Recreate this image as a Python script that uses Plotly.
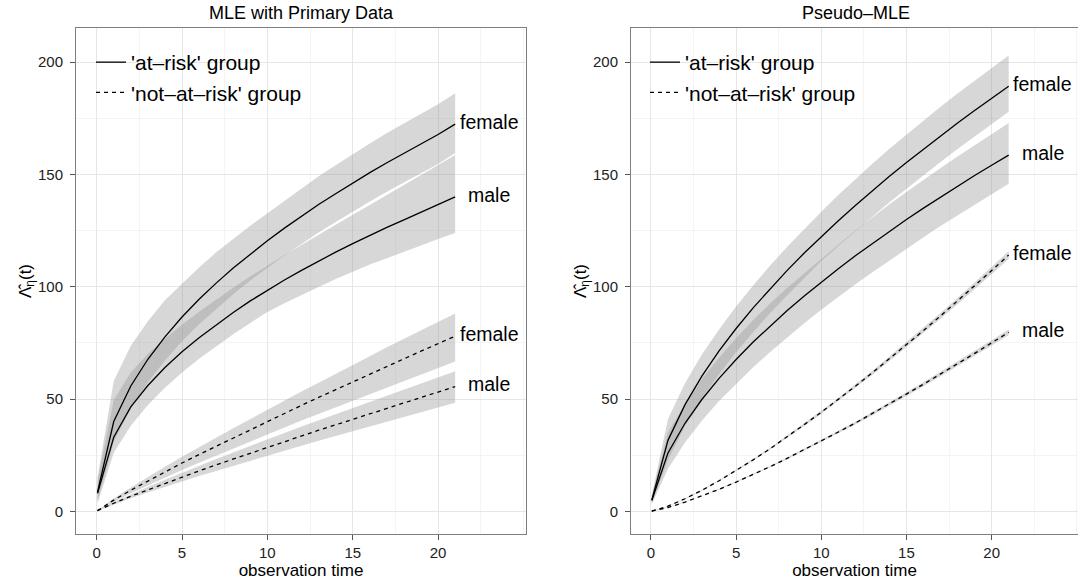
import plotly.graph_objects as go

# ---------------- data ----------------
T = [0.05, 1, 2, 3, 4, 5, 6, 7, 8, 9, 10, 11, 12, 13, 14, 15, 16, 17, 18, 19, 20, 21]

# Panel 1: MLE with Primary Data
mle_risk_female = [8.5, 40.0, 55.8, 67.7, 77.7, 86.5, 94.4, 101.6, 108.3, 114.6, 120.5, 126.1, 131.4, 136.6, 141.4, 146.2, 150.8, 155.2, 159.4, 163.6, 167.8, 172.4]
mle_risk_female_lo = [4.5, 31.0, 45.8, 57.5, 67.2, 75.7, 83.3, 90.2, 96.7, 102.8, 108.5, 113.9, 119.0, 124.2, 128.8, 133.5, 138.0, 142.3, 146.5, 150.7, 154.7, 159.5]
mle_risk_female_hi = [15.0, 58.0, 73.7, 84.6, 94.0, 101.2, 108.6, 115.3, 121.3, 127.2, 132.6, 138.3, 143.8, 149.2, 154.1, 159.1, 163.8, 168.4, 172.6, 177.0, 181.2, 186.2]
mle_risk_male = [8.0, 33.0, 46.5, 56.0, 64.0, 71.0, 77.3, 83.1, 88.5, 93.7, 98.5, 103.0, 107.3, 111.4, 115.4, 119.2, 122.9, 126.4, 129.8, 133.2, 136.6, 140.0]
mle_risk_male_lo = [3.5, 26.1, 38.1, 47.3, 55.0, 61.8, 67.9, 73.5, 78.8, 83.9, 88.7, 92.6, 96.4, 99.9, 103.4, 106.7, 109.9, 112.7, 115.7, 118.4, 121.2, 123.9]
mle_risk_male_hi = [13.5, 49.5, 61.8, 70.0, 76.8, 83.1, 88.9, 94.3, 99.6, 104.7, 109.3, 114.1, 118.7, 123.1, 127.6, 132.1, 136.4, 140.8, 145.1, 149.6, 154.1, 158.6]
mle_norisk_female = [0.3, 5.0, 9.4, 13.5, 17.5, 21.5, 25.3, 29.0, 32.7, 36.4, 40.0, 43.6, 47.2, 50.7, 54.2, 57.7, 61.1, 64.6, 67.9, 71.3, 74.7, 78.0]
mle_norisk_female_lo = [0.2, 4.3, 8.0, 11.5, 15.0, 18.4, 21.6, 24.8, 28.0, 31.1, 34.2, 37.3, 40.4, 43.3, 46.3, 49.3, 52.2, 55.2, 58.1, 61.0, 63.9, 66.7]
mle_norisk_female_hi = [0.3, 5.7, 10.6, 15.3, 19.8, 24.3, 28.6, 32.8, 37.0, 41.1, 45.2, 49.3, 53.3, 57.3, 61.2, 65.2, 69.0, 73.0, 76.7, 80.6, 84.4, 88.1]
mle_norisk_male = [0.3, 3.6, 6.7, 9.6, 12.5, 15.3, 18.0, 20.7, 23.3, 25.9, 28.5, 31.0, 33.6, 36.1, 38.5, 41.0, 43.5, 45.9, 48.3, 50.7, 53.1, 55.5]
mle_norisk_male_lo = [0.2, 3.1, 5.8, 8.4, 10.9, 13.3, 15.7, 18.0, 20.3, 22.5, 24.8, 27.0, 29.2, 31.4, 33.5, 35.7, 37.8, 39.9, 42.0, 44.1, 46.2, 48.3]
mle_norisk_male_hi = [0.4, 4.1, 7.5, 10.8, 14.1, 17.2, 20.3, 23.3, 26.2, 29.1, 32.1, 34.9, 37.8, 40.6, 43.3, 46.1, 48.9, 51.6, 54.3, 57.0, 59.7, 62.4]

# Panel 2: Pseudo-MLE
ps_risk_female = [5.0, 31.6, 47.5, 60.3, 71.4, 81.4, 90.6, 99.2, 107.3, 115.0, 122.4, 129.4, 136.2, 142.8, 149.2, 155.3, 161.3, 167.2, 172.9, 178.5, 184.0, 189.3]
ps_risk_female_lo = [3.5, 22.8, 38.0, 50.4, 61.0, 70.8, 79.7, 88.3, 96.2, 104.0, 111.4, 118.1, 124.8, 131.2, 137.6, 143.7, 149.7, 155.5, 161.3, 166.9, 172.6, 177.9]
ps_risk_female_hi = [7.0, 41.1, 57.0, 69.9, 81.0, 91.2, 100.6, 109.4, 117.8, 125.8, 133.4, 140.8, 147.9, 154.8, 161.4, 167.7, 174.0, 180.1, 186.0, 191.9, 197.4, 202.9]
ps_risk_male = [4.8, 26.0, 39.2, 49.9, 59.2, 67.6, 75.4, 82.6, 89.4, 95.9, 102.1, 108.0, 113.8, 119.3, 124.7, 129.9, 135.0, 139.9, 144.7, 149.5, 154.1, 158.6]
ps_risk_male_lo = [3.2, 19.0, 30.6, 40.4, 49.1, 56.8, 64.1, 70.9, 77.4, 83.7, 89.8, 95.5, 101.1, 106.4, 111.7, 116.9, 122.0, 127.0, 131.8, 136.6, 141.3, 145.9]
ps_risk_male_hi = [6.8, 35.1, 47.8, 58.9, 68.4, 77.1, 85.2, 92.5, 99.5, 106.1, 112.3, 118.7, 125.0, 130.9, 136.7, 142.2, 147.7, 152.9, 158.0, 163.1, 168.0, 172.9]
ps_norisk_female = [0.1, 2.3, 5.6, 9.4, 13.6, 18.2, 22.9, 27.9, 33.1, 38.6, 44.1, 49.8, 55.7, 61.7, 67.9, 74.2, 80.5, 87.0, 93.6, 100.4, 107.2, 114.1]
ps_norisk_female_lo = [0.0, 2.2, 5.4, 9.2, 13.4, 17.9, 22.5, 27.5, 32.6, 38.0, 43.4, 49.1, 54.9, 60.8, 66.9, 73.1, 79.3, 85.7, 92.2, 98.9, 105.6, 112.4]
ps_norisk_female_hi = [0.2, 2.4, 5.8, 9.6, 13.8, 18.5, 23.3, 28.3, 33.6, 39.2, 44.8, 50.5, 56.5, 62.6, 68.9, 75.3, 81.7, 88.3, 95.0, 101.9, 108.8, 115.8]
ps_norisk_male = [0.1, 1.7, 4.1, 6.8, 9.8, 13.0, 16.4, 19.9, 23.6, 27.4, 31.3, 35.3, 39.3, 43.5, 47.8, 52.2, 56.6, 61.1, 65.6, 70.3, 75.0, 79.7]
ps_norisk_male_lo = [0.0, 1.6, 4.0, 6.7, 9.6, 12.8, 16.1, 19.6, 23.2, 27.0, 30.8, 34.7, 38.7, 42.8, 47.0, 51.4, 55.7, 60.1, 64.6, 69.2, 73.8, 78.5]
ps_norisk_male_hi = [0.2, 1.8, 4.2, 6.9, 10.0, 13.2, 16.7, 20.2, 24.0, 27.8, 31.8, 35.9, 39.9, 44.2, 48.6, 53.0, 57.5, 62.1, 66.6, 71.4, 76.2, 80.9]

panel_titles = ["MLE with Primary Data", "Pseudo\u2013MLE"]
legend_names = ["'at\u2013risk' group", "'not\u2013at\u2013risk' group"]
label_x = 23
x_ticks = [0, 5, 10, 15, 20]
y_ticks = [0, 50, 100, 150, 200]

# ---------------- figure ----------------
FONT = "Liberation Sans, Arial, Helvetica, sans-serif"
BAND = "rgba(150,150,150,0.38)"

fig = go.Figure()

panels = [
    dict(xa="x", ya="y", leg="legend", series=[
        ("female", mle_risk_female, mle_risk_female_lo, mle_risk_female_hi, "solid"),
        ("male", mle_risk_male, mle_risk_male_lo, mle_risk_male_hi, "solid"),
        ("female", mle_norisk_female, mle_norisk_female_lo, mle_norisk_female_hi, "dash"),
        ("male", mle_norisk_male, mle_norisk_male_lo, mle_norisk_male_hi, "dash"),
    ]),
    dict(xa="x2", ya="y2", leg="legend2", series=[
        ("female", ps_risk_female, ps_risk_female_lo, ps_risk_female_hi, "solid"),
        ("male", ps_risk_male, ps_risk_male_lo, ps_risk_male_hi, "solid"),
        ("female", ps_norisk_female, ps_norisk_female_lo, ps_norisk_female_hi, "dash"),
        ("male", ps_norisk_male, ps_norisk_male_lo, ps_norisk_male_hi, "dash"),
    ]),
]

for p in panels:
    for (name, v, lo, hi, style) in p["series"]:
        fig.add_trace(go.Scatter(
            x=T + T[::-1], y=lo + hi[::-1], fill="toself", fillcolor=BAND,
            line=dict(width=0), mode="lines", hoverinfo="skip", showlegend=False,
            xaxis=p["xa"], yaxis=p["ya"]))
    shown = set()
    for (name, v, lo, hi, style) in p["series"]:
        show = style not in shown
        shown.add(style)
        fig.add_trace(go.Scatter(
            x=T, y=v, mode="lines",
            line=dict(color="black", width=1.3, dash="solid" if style == "solid" else "4px,4px"),
            name=legend_names[0] if style == "solid" else legend_names[1],
            legendgroup=style, showlegend=show, legend=p["leg"],
            xaxis=p["xa"], yaxis=p["ya"]))
        fig.add_annotation(x=label_x, y=v[-1] + 1, xref=p["xa"], yref=p["ya"], text=name,
                           showarrow=False, xanchor="center", yanchor="middle",
                           font=dict(family=FONT, size=19.5, color="black"))

W, H = 1078, 582
ML_, MR_, MT, MB = 0, 0, 28, 48
dom1 = [76 / W, 526 / W]
dom2 = [631 / W, 1.0]

axis_common = dict(
    showgrid=True, gridcolor="#e6e6e6", gridwidth=1,
    zeroline=False, showline=True, linecolor="#7f7f7f", linewidth=1,
    ticks="outside", ticklen=5, tickcolor="#555555", tickwidth=1,
    tickfont=dict(family=FONT, size=15, color="#222222"),
)
xcommon = dict(axis_common, tickvals=x_ticks, mirror=True,
               minor=dict(dtick=2.5, tick0=0, showgrid=True, gridcolor="#f4f4f4", gridwidth=1, ticks=""),
               title=dict(text="observation time", font=dict(family=FONT, size=17, color="black"), standoff=0))
ycommon = dict(axis_common, tickvals=y_ticks, ticklabelstandoff=4,
               minor=dict(dtick=25, tick0=0, showgrid=True, gridcolor="#f4f4f4", gridwidth=1, ticks=""),
               title=dict(text="\u039B\u0302<sub>\u03B7</sub>(t)", font=dict(family=FONT, size=17, color="black"), standoff=2))

leg_common = dict(yanchor="top", xanchor="left", bgcolor="rgba(0,0,0,0)",
                  font=dict(family=FONT, size=21, color="black"),
                  tracegroupgap=12, traceorder="normal")

fig.update_layout(
    width=W, height=H,
    margin=dict(l=ML_, r=MR_, t=MT, b=MB, pad=0),
    paper_bgcolor="white", plot_bgcolor="white",
    font=dict(family=FONT, color="black"),
    xaxis=dict(xcommon, domain=dom1, range=[-1.21, 25.15], anchor="y"),
    yaxis=dict(ycommon, domain=[0, 1], range=[-10.1, 215.2], anchor="x", mirror=True),
    xaxis2=dict(xcommon, domain=dom2, range=[-1.17, 25.07], anchor="y2"),
    yaxis2=dict(ycommon, domain=[0, 1], range=[-10.1, 215.2], anchor="x2", mirror=False),
    legend=dict(leg_common, x=91 / W, y=(534 - 42) / 506),
    legend2=dict(leg_common, x=645 / W, y=(534 - 42) / 506),
    showlegend=True,
)

for i, t in enumerate(panel_titles):
    cx = (76 + 526) / 2 / W if i == 0 else (631 + 1081) / 2 / W
    fig.add_annotation(x=cx, y=1, xref="paper", yref="paper", text=t, showarrow=False,
                       xanchor="center", yanchor="bottom", yshift=3,
                       font=dict(family=FONT, size=18, color="black"))

fig.write_html("out.html")
